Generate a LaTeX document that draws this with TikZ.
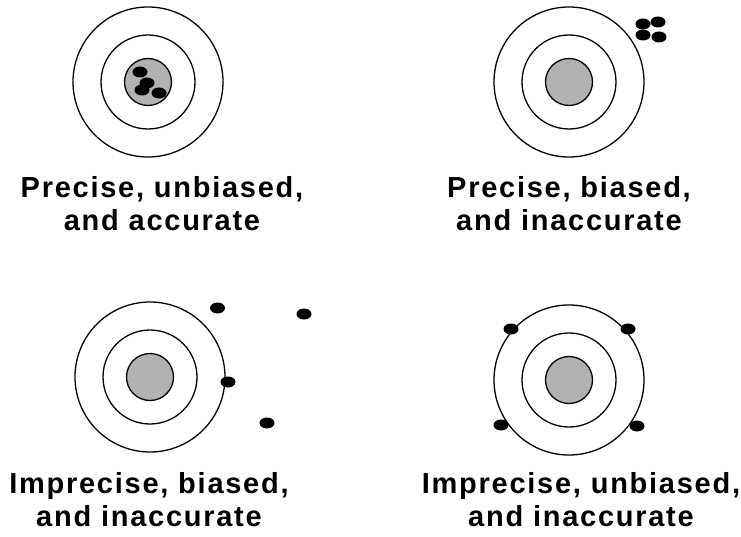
\documentclass[tikz,border=0pt]{standalone}
\usepackage{fontspec}
\setmainfont{Liberation Sans}
\newfontfamily\labelfont[LetterSpace=6]{Liberation Sans Bold}

\begin{document}
\begin{tikzpicture}[x=1pt, y=-1pt,
  ring/.style={line width=1.3pt},
  bull/.style={fill=gray!60, draw, line width=1.3pt},
  shot/.style={fill=black},
  lbl/.style={font=\labelfont\fontsize{29}{33}\selectfont, align=center, anchor=base, inner sep=0pt}]

\useasboundingbox (0,0) rectangle (741,537);

% Zielscheiben
\foreach \cx/\cy in {148/82, 569/82, 150/377, 569/380} {
    \draw[ring] (\cx,\cy) circle (75pt);
    \draw[ring] (\cx,\cy) circle (47pt);
    \filldraw[bull] (\cx,\cy) circle (23.5pt);
}

% Treffer oben links
\foreach \sx/\sy in {140/72, 147/83, 142/90, 159/93}
    \fill[shot] (\sx,\sy) ellipse (7.5pt and 5.5pt);

% Treffer oben rechts
\foreach \sx/\sy in {643/24, 658/22, 643/35, 659/37}
    \fill[shot] (\sx,\sy) ellipse (7.5pt and 5.5pt);

% Treffer unten links
\foreach \sx/\sy in {217.5/308, 304/314, 228/382, 267/423}
    \fill[shot] (\sx,\sy) ellipse (7.5pt and 5.5pt);

% Treffer unten rechts
\foreach \sx/\sy in {511/329, 628/329, 501/425, 637/426}
    \fill[shot] (\sx,\sy) ellipse (7.5pt and 5.5pt);

% Beschriftungen
\node[lbl] (pu) at (162,231) {Precise, unbiased,\\and accurate};
\node[lbl] (pb) at (569,231) {Precise, biased,\\and inaccurate};
\node[lbl] (ib) at (149,526) {Imprecise, biased,\\and inaccurate};
\node[lbl] (iu) at (581,526) {Imprecise, unbiased,\\and inaccurate};
\end{tikzpicture}
\end{document}
